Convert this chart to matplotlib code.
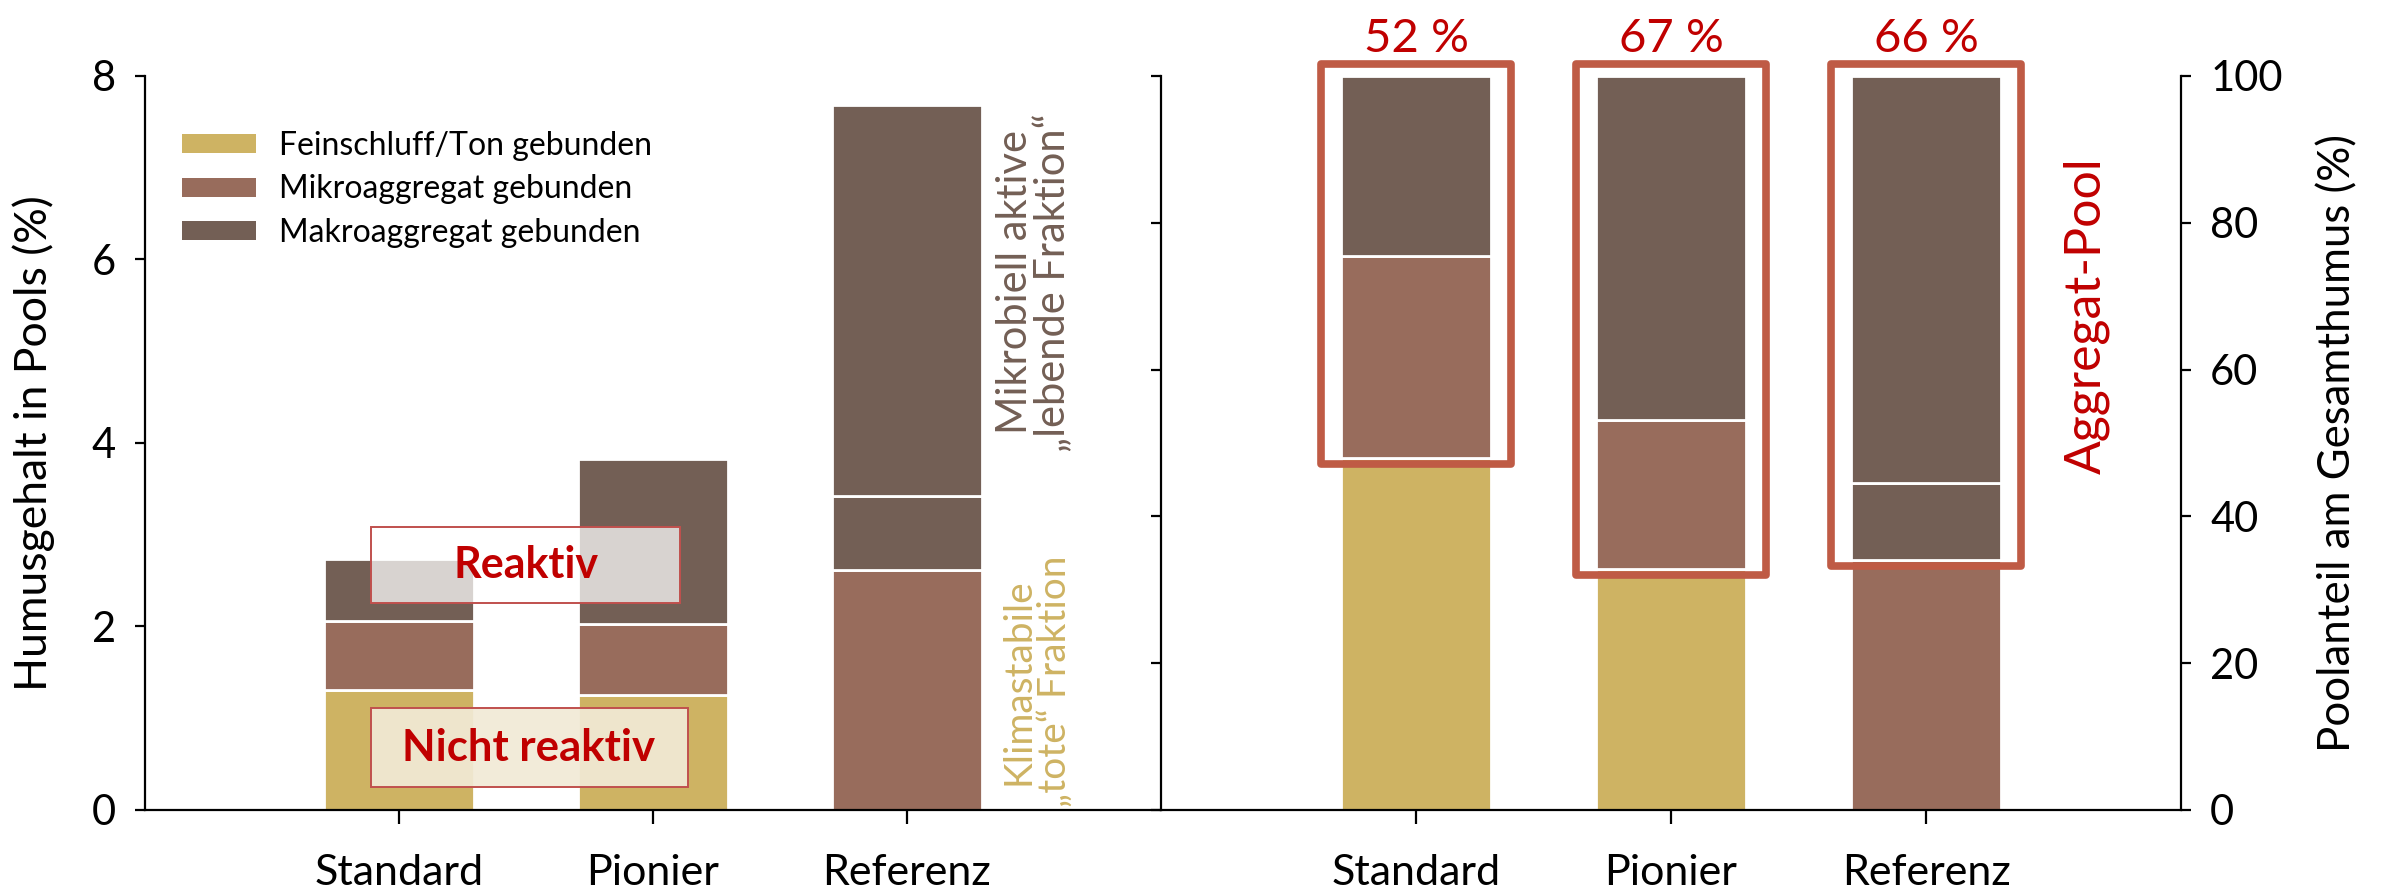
import matplotlib
matplotlib.use("Agg")
import matplotlib.pyplot as plt
from matplotlib.patches import Patch, Rectangle
import numpy as np

plt.rcParams['font.family'] = ['Lato', 'DejaVu Sans']

# Humus content per pool (%), per site
categories = ['Standard', 'Pionier', 'Referenz']
fein = [1.31, 1.255, 2.62]     # Feinschluff/Ton gebunden
mikro = [0.75, 0.775, 0.80]    # Mikroaggregat gebunden
makro = [0.67, 1.79, 4.26]     # Makroaggregat gebunden

pool_labels = ['Feinschluff/Ton gebunden', 'Mikroaggregat gebunden', 'Makroaggregat gebunden']
left_ticks = [0, 2, 4, 6, 8]
right_ticks = [0, 20, 40, 60, 80, 100]

C_FEIN = '#CEB363'
C_MIKRO = '#986C5C'
C_MAKRO = '#735F55'
C_RED = '#C00000'
C_BOX = '#BF5B45'

# segment colours per site (bottom -> top)
seg_colors = [
    [C_FEIN, C_MIKRO, C_MAKRO],
    [C_FEIN, C_MIKRO, C_MAKRO],
    [C_MIKRO, C_MAKRO, C_MAKRO],
]

fein = np.array(fein)
mikro = np.array(mikro)
makro = np.array(makro)
total = fein + mikro + makro
x = np.arange(len(categories))
width = 0.59

fig = plt.figure(figsize=(23.86, 8.94), dpi=100)
ax1 = fig.add_axes([0.0607, 0.094, 0.4259, 0.821])
ax2 = fig.add_axes([0.4866, 0.094, 0.4275, 0.821])


def stacked(ax, layers):
    bottom = np.zeros(len(categories))
    for j, vals in enumerate(layers):
        cols = [seg_colors[i][j] for i in range(len(categories))]
        ax.bar(x, vals, width, bottom=bottom, color=cols,
               edgecolor='white', linewidth=2.0, zorder=2)
        bottom = bottom + vals


# ---- left panel: absolute content
stacked(ax1, [fein, mikro, makro])
ax1.set_xlim(-1, 3)
ax1.set_ylim(0, 8)
ax1.set_yticks(left_ticks)
ax1.set_xticks(x)
ax1.set_xticklabels(categories)
ax1.spines['top'].set_visible(False)
ax1.spines['right'].set_visible(False)
for s in ['left', 'bottom']:
    ax1.spines[s].set_linewidth(1.6)
ax1.tick_params(axis='y', direction='out', length=7, width=1.6,
                labelsize=30, pad=14)
ax1.tick_params(axis='x', direction='out', length=10, width=1.6,
                labelsize=31, pad=22)
ax1.set_ylabel('Humusgehalt in Pools (%)', fontsize=32)
ax1.yaxis.set_label_coords(-0.0886, 0.5)

handles = [Patch(facecolor=c, edgecolor='none') for c in (C_FEIN, C_MIKRO, C_MAKRO)]
ax1.legend(handles, pool_labels, loc='upper left', bbox_to_anchor=(0.037, 0.925),
           frameon=False, fontsize=23, handlelength=2.3, handleheight=0.55,
           handletextpad=0.72, labelspacing=0.42, borderaxespad=0, borderpad=0)

# reactive / non-reactive labels
ax1.add_patch(Rectangle((-0.108, 2.257), 1.216, 0.83, facecolor=(1, 1, 1, 0.73),
                        edgecolor='#C0504D', linewidth=1.4, zorder=3))
ax1.text(0.5, 2.67, 'Reaktiv', color=C_RED, fontsize=31, fontweight='bold',
         ha='center', va='center', zorder=4)
ax1.add_patch(Rectangle((-0.108, 0.249), 1.246, 0.863, facecolor=(0.945, 0.918, 0.84, 0.92),
                        edgecolor='#C0504D', linewidth=1.4, zorder=3))
ax1.text(0.51, 0.68, 'Nicht reaktiv', color=C_RED, fontsize=31.5, fontweight='bold',
         ha='center', va='center', zorder=4)

ax1.text(2.5, 5.75, 'Mikrobiell aktive\n\u201elebende Fraktion\u201c', color=C_MAKRO,
         fontsize=30, rotation=90, ha='center', va='center', multialignment='center',
         linespacing=0.95)
ax1.text(2.51, 1.4, 'Klimastabile\n\u201etote\u201c Fraktion', color=C_FEIN,
         fontsize=28, rotation=90, ha='center', va='center', multialignment='center',
         linespacing=1.0)

# ---- right panel: relative share
pf = fein / total * 100
pm = mikro / total * 100
pk = makro / total * 100
stacked(ax2, [pf, pm, pk])
ax2.set_xlim(-1, 3)
ax2.set_ylim(0, 100)
ax2.set_yticks(right_ticks)
ax2.set_xticks(x)
ax2.set_xticklabels(categories)
ax2.spines['top'].set_visible(False)
for s in ['left', 'right', 'bottom']:
    ax2.spines[s].set_linewidth(1.6)
ax2.tick_params(axis='y', left=True, right=True, labelleft=False, labelright=True,
                direction='out', length=7, width=1.6, labelsize=30, pad=14)
ax2.tick_params(axis='x', direction='out', length=10, width=1.6,
                labelsize=31, pad=22)
ax2.yaxis.set_label_position('right')
ax2.set_ylabel('Poolanteil am Gesamthumus (%)', fontsize=31.5)
ax2.yaxis.set_label_coords(1.134, 0.5)

aggr_share = (mikro + makro) / total * 100
box_half = width / 2 + 0.077
for i in range(len(categories)):
    y0 = pf[i] - 0.9
    ax2.add_patch(Rectangle((x[i] - box_half, y0), 2 * box_half, 101.6 - y0,
                            facecolor='none', edgecolor=C_BOX, linewidth=5.5,
                            joinstyle='round', clip_on=False, zorder=4))
    ax2.text(x[i], 105, f'{aggr_share[i]:.0f} %', color=C_RED, fontsize=34,
             ha='center', va='center', clip_on=False)

ax2.text(2.63, 67.4, 'Aggregat-Pool', color=C_RED, fontsize=36, rotation=90,
         ha='center', va='center')

fig.savefig('out.png', dpi=100)
